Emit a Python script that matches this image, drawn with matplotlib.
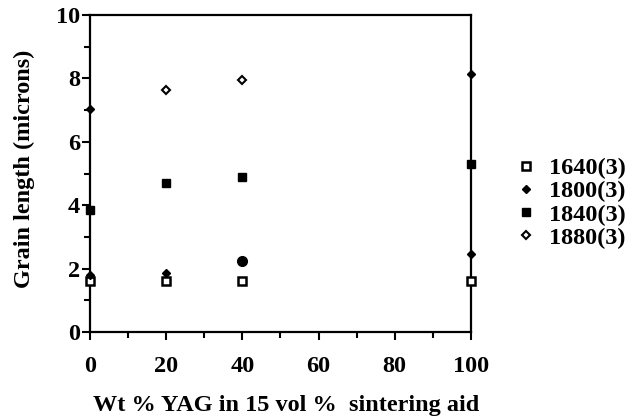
import numpy as np
import matplotlib
matplotlib.use("Agg")
import matplotlib.pyplot as plt
from matplotlib.ticker import MultipleLocator

plt.rcParams['font.family'] = ['Liberation Serif', 'DejaVu Serif']
plt.rcParams['font.weight'] = 'bold'

# grain length vs YAG content, one list pair per sintering run
x_1640 = [0, 20, 40, 100]
y_1640 = [1.6, 1.6, 1.6, 1.6]

x_1800 = [0, 0, 20, 100, 100]
y_1800 = [7.05, 1.8, 1.85, 8.15, 2.45]

x_1840 = [0, 20, 40, 100]
y_1840 = [3.85, 4.7, 4.9, 5.3]

x_1880 = [20, 40]
y_1880 = [7.65, 7.95]

# lone point with no legend entry
x_extra = [40]
y_extra = [2.25]

fig = plt.figure(figsize=(6.32, 4.19), dpi=100)
ax = fig.add_axes([0.1424, 0.2076, 0.6026, 0.7564])

fs = 17.5
ax.plot(x_1640, y_1640, ls='none', marker='s', ms=6, mfc='white', mec='black', mew=1.8,
        label='1640(3)', clip_on=False, zorder=3)
ax.plot(x_1800, y_1800, ls='none', marker='D', ms=4.5, mfc='black', mec='black',
        label='1800(3)', clip_on=False, zorder=3)
ax.plot(x_1840, y_1840, ls='none', marker='s', ms=5.5, mfc='black', mec='black',
        label='1840(3)', clip_on=False, zorder=3)
ax.plot(x_1880, y_1880, ls='none', marker='D', ms=4.5, mfc='white', mec='black', mew=1.5,
        label='1880(3)', clip_on=False, zorder=3)
ax.plot(x_extra, y_extra, ls='none', marker='o', ms=7, mfc='black', mec='black',
        clip_on=False, zorder=3)

ax.set_xlim(0, 100)
ax.set_ylim(0, 10)
ax.xaxis.set_major_locator(MultipleLocator(20))
ax.xaxis.set_minor_locator(MultipleLocator(10))
ax.yaxis.set_major_locator(MultipleLocator(2))
ax.yaxis.set_minor_locator(MultipleLocator(1))
ax.tick_params(which='major', direction='out', length=6, width=1.5, labelsize=fs, pad=11)
ax.tick_params(which='minor', direction='out', length=4, width=1.5)
ax.tick_params(axis='y', which='major', pad=1)
for lab in ax.get_xticklabels() + ax.get_yticklabels():
    lab.set_fontweight('bold')

for sp in ax.spines.values():
    sp.set_linewidth(1.6)

ax.set_xlabel('Wt % YAG in 15 vol %  sintering aid', fontsize=fs, fontweight='bold')
ax.xaxis.set_label_coords(0.515, -0.2)
ax.set_ylabel('Grain length (microns)', fontsize=fs, fontweight='bold')
ax.yaxis.set_label_coords(-0.144, 0.514)

ax.legend(loc='center left', bbox_to_anchor=(1.088, 0.407), frameon=False,
          prop={'size': fs, 'weight': 'bold'}, handlelength=0.8, handletextpad=0.55,
          labelspacing=0.05, borderpad=0)

fig.savefig('out.png', dpi=100)
